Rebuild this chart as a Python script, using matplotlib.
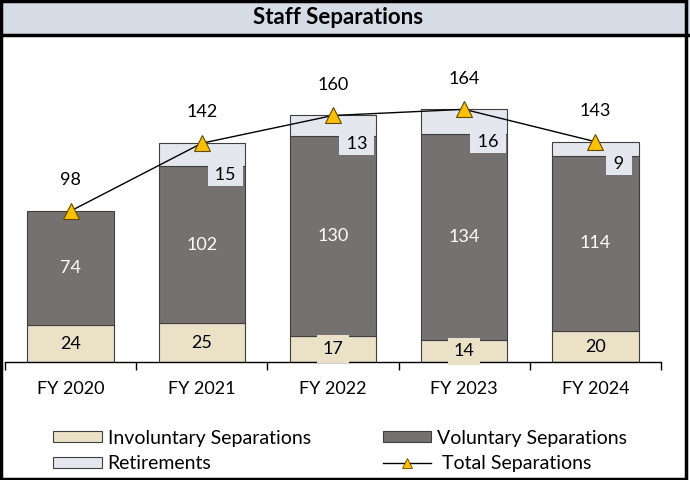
import matplotlib
matplotlib.use("Agg")
import matplotlib.pyplot as plt
from matplotlib.patches import Patch, Rectangle
from matplotlib.lines import Line2D
import numpy as np

years = ["FY 2020", "FY 2021", "FY 2022", "FY 2023", "FY 2024"]
involuntary = [24, 25, 17, 14, 20]
voluntary = [74, 102, 130, 134, 114]
retirements = [0, 15, 13, 16, 9]
totals = [98, 142, 160, 164, 143]

C_INV = "#EAE1C6"
C_VOL = "#767171"
C_RET = "#E4E7EE"
C_EDGE = "#3F3F3F"
C_TRI = "#FFC000"

plt.rcParams['font.family'] = ['Lato', 'DejaVu Sans']

fig = plt.figure(figsize=(6.9, 4.8), dpi=100)

# 标题栏和外框
fig.patches.append(Rectangle((0, 1 - 35 / 480), 1, 35 / 480, transform=fig.transFigure,
                             facecolor="#D6DCE5", edgecolor="none", zorder=0))
fig.lines.append(Line2D([0, 1], [1 - 35 / 480] * 2, transform=fig.transFigure,
                        color="black", lw=2.5))
fig.patches.append(Rectangle((0.002, 0.003), 0.992, 0.994, transform=fig.transFigure,
                             facecolor="none", edgecolor="black", lw=2.5))
fig.text(0.49, 1 - 18 / 480, "Staff Separations", ha="center", va="center",
         fontsize=16, fontweight="bold")

ax = fig.add_axes([5 / 690, 118 / 480, 656 / 690, 322 / 480])
x = np.arange(len(years))
w = 0.66
inv = np.array(involuntary)
vol = np.array(voluntary)
ret = np.array(retirements)

ax.bar(x, inv, w, color=C_INV, edgecolor=C_EDGE, lw=0.8, zorder=2)
ax.bar(x, vol, w, bottom=inv, color=C_VOL, edgecolor=C_EDGE, lw=0.8, zorder=2)
ret_idx = ret > 0
ax.bar(x[ret_idx], ret[ret_idx], w, bottom=(inv + vol)[ret_idx], color=C_RET,
       edgecolor=C_EDGE, lw=0.8, zorder=2)

ax.plot(x, totals, color="black", lw=1, marker="^", markersize=12,
        markerfacecolor=C_TRI, markeredgecolor="#5E4A00", markeredgewidth=0.8, zorder=4)

for i in range(len(years)):
    ax.text(x[i], inv[i] / 2, str(inv[i]), ha="center", va="center", fontsize=13,
            zorder=5, bbox=dict(facecolor=C_INV, edgecolor="none", pad=4))
    ax.text(x[i], inv[i] + vol[i] / 2, str(vol[i]), ha="center", va="center",
            fontsize=13, color="white", zorder=5)
    if ret[i] > 0:
        ax.text(x[i] + 0.18, inv[i] + vol[i] - 5.5, f" {ret[i]} ", ha="center", va="center",
                fontsize=13, zorder=5,
                bbox=dict(facecolor=C_RET, edgecolor="none", pad=2))
    ax.text(x[i], totals[i] + 20, str(totals[i]), ha="center", va="center", fontsize=13)

ax.set_xlim(-0.5, 4.5)
ax.set_ylim(0, 209)
for s in ["top", "left", "right"]:
    ax.spines[s].set_visible(False)
ax.spines["bottom"].set_color("black")
ax.spines["bottom"].set_linewidth(1)
ax.set_yticks([])
ax.set_xticks(np.arange(-0.5, 5, 1))
ax.set_xticklabels([])
ax.tick_params(axis="x", which="major", length=6, width=1, color="black")
ax.set_xticks(x, minor=True)
ax.set_xticklabels(years, minor=True, fontsize=13)
ax.tick_params(axis="x", which="minor", length=0, pad=14)

handles = [
    Patch(facecolor=C_INV, edgecolor=C_EDGE, lw=0.8),
    Patch(facecolor=C_RET, edgecolor=C_EDGE, lw=0.8),
    Patch(facecolor=C_VOL, edgecolor=C_EDGE, lw=0.8),
    Line2D([], [], color="black", lw=1, marker="^", markersize=7,
           markerfacecolor=C_TRI, markeredgecolor="#5E4A00", markeredgewidth=0.6),
]
labels = ["Involuntary Separations", "Retirements", "Voluntary Separations", " Total Separations"]
fig.legend(handles, labels, ncol=2, loc="center", bbox_to_anchor=(0.493, 1 - 451 / 480),
           frameon=False, fontsize=14, handlelength=2.5, handleheight=0.52,
           handletextpad=0.3, columnspacing=3.7, labelspacing=0.45)

fig.savefig("out.png", dpi=100)
